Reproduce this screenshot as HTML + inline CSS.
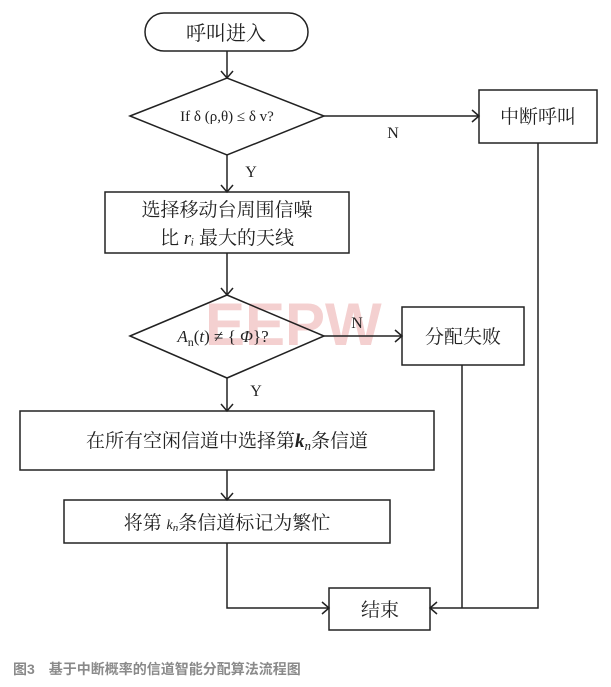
<!DOCTYPE html>
<html><head><meta charset="utf-8"><style>
html,body{margin:0;padding:0;background:#fff;}
svg{display:block;}
text{font-family:"Liberation Serif","Noto Serif CJK SC",serif;fill:#222;}
.cj{font-family:"Liberation Sans","Noto Sans CJK SC",sans-serif;}
</style></head><body>
<svg width="611" height="687" viewBox="0 0 611 687" xmlns="http://www.w3.org/2000/svg">
<text x="205" y="345" font-weight="bold" font-size="60" style="fill:#f4d0d0;font-family:'Liberation Sans',sans-serif">EEPW</text>
<g fill="none" stroke="#222" stroke-width="1.5">
<rect x="145" y="13" width="163" height="38" rx="19"/>
<polygon points="130,116 227,78 324,116 227,155"/>
<rect x="479" y="90" width="118" height="53"/>
<rect x="105" y="192" width="244" height="61"/>
<polygon points="130,336 227,295 324,336 227,378"/>
<rect x="402" y="307" width="122" height="58"/>
<rect x="20" y="411" width="414" height="59"/>
<rect x="64" y="500" width="326" height="43"/>
<rect x="329" y="588" width="101" height="42"/>
<line x1="227" y1="51" x2="227" y2="78"/>
<line x1="324" y1="116" x2="479" y2="116"/>
<line x1="227" y1="155" x2="227" y2="192"/>
<line x1="227" y1="253" x2="227" y2="295"/>
<line x1="324" y1="336" x2="402" y2="336"/>
<line x1="227" y1="378" x2="227" y2="411"/>
<line x1="227" y1="470" x2="227" y2="500"/>
<polyline points="227,543 227,608 329,608"/>
<polyline points="538,143 538,608 430,608"/>
<line x1="462" y1="365" x2="462" y2="608"/>
<polyline points="221,71 227,78 233,71"/>
<polyline points="472,110 479,116 472,122"/>
<polyline points="221,185 227,192 233,185"/>
<polyline points="221,288 227,295 233,288"/>
<polyline points="395,330 402,336 395,342"/>
<polyline points="221,404 227,411 233,404"/>
<polyline points="221,493 227,500 233,493"/>
<polyline points="322,602 329,608 322,614"/>
<polyline points="437,602 430,608 437,614"/>
</g>
<text x="226" y="40" font-size="20" text-anchor="middle">呼叫进入</text>
<text x="227" y="121" font-size="15" text-anchor="middle">If δ (ρ,θ) ≤ δ v?</text>
<text x="393" y="138" font-size="16" text-anchor="middle">N</text>
<text x="538" y="123" font-size="19" text-anchor="middle">中断呼叫</text>
<text x="251" y="177" font-size="16" text-anchor="middle">Y</text>
<text x="227" y="216" font-size="19" text-anchor="middle">选择移动台周围信噪</text>
<text x="227" y="244" font-size="19" text-anchor="middle">比<tspan font-style="italic"> rᵢ </tspan>最大的天线</text>
<text x="223" y="342" font-size="17" text-anchor="middle"><tspan font-style="italic">A</tspan><tspan font-size="12" dy="4">n</tspan><tspan dy="-4">(</tspan><tspan font-style="italic">t</tspan>) ≠ { <tspan font-style="italic">Φ</tspan>}?</text>
<text x="357" y="328" font-size="16" text-anchor="middle">N</text>
<text x="463" y="343" font-size="19" text-anchor="middle">分配失败</text>
<text x="256" y="396" font-size="16" text-anchor="middle">Y</text>
<text x="227" y="447" font-size="19" text-anchor="middle">在所有空闲信道中选择第<tspan font-style="italic" font-weight="bold">k</tspan><tspan font-style="italic" font-size="13" dy="3">n</tspan><tspan dy="-3">条信道</tspan></text>
<text x="227" y="529" font-size="19" text-anchor="middle">将第 <tspan font-style="italic" font-size="14">k</tspan><tspan font-style="italic" font-size="11" dy="2">n</tspan><tspan dy="-2">条信道标记为繁忙</tspan></text>
<text x="380" y="616" font-size="19" text-anchor="middle">结束</text>
<text class="cj" x="13" y="674" font-size="14" font-weight="bold" style="fill:#8a8a8a">图3　基于中断概率的信道智能分配算法流程图</text>
</svg>
</body></html>
